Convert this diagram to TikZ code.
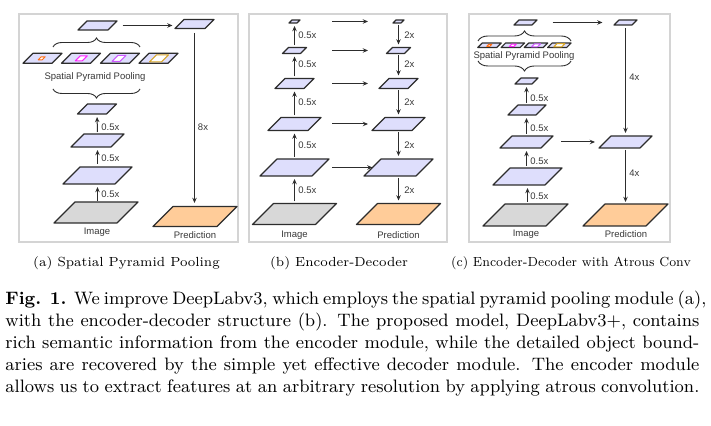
\documentclass[tikz,border=0pt]{standalone}
\usepackage{fontspec}
\newfontfamily\lsans{Liberation Sans}
\usetikzlibrary{arrows.meta,decorations.pathreplacing,calc}
\definecolor{lav}{RGB}{222,222,252}
\definecolor{imgray}{RGB}{216,216,216}
\definecolor{predc}{RGB}{255,204,153}
\definecolor{edgec}{RGB}{45,45,45}
\definecolor{framec}{RGB}{212,212,212}
\definecolor{sppo}{RGB}{255,110,20}
\definecolor{sppm}{RGB}{255,40,255}
\definecolor{sppv}{RGB}{205,90,255}
\definecolor{sppy}{RGB}{215,165,40}
\tikzset{
 layer/.style={draw=edgec, line width=0.6pt, line join=round, fill=lav},
 arr/.style={draw=edgec, line width=0.5pt, -{Stealth[length=2.6pt,width=2.2pt]}},
 lbl/.style={font=\lsans\fontsize{4.75}{5}\selectfont, text=black!78, inner sep=0},
 panel/.style={draw=framec, line width=0.75pt, fill=white},
 brc/.style={decorate, decoration={brace, amplitude=#1}, draw=edgec, line width=0.45pt},
 brc/.default=4.5pt,
 inr/.style={line width=0.5pt, fill=white, draw=#1},
 sub/.style={font=\fontsize{6.6}{8}\selectfont, inner sep=0},
}
% name, cx, cy, w (edge length), h, extra style   (units: px)
\newcommand\lay[6]{%
  \coordinate (#1) at (#2,#3);
  \coordinate (#1-t) at (#2,#3-#5/2);
  \coordinate (#1-b) at (#2,#3+#5/2);
  \coordinate (#1-l) at (#2-#4/2,#3);
  \coordinate (#1-r) at (#2+#4/2,#3);
  \draw[layer,#6] (#2-#4/2-#5/2,#3+#5/2) -- ++(#4,0) -- ++(#5,-#5) -- ++(-#4,0) -- cycle;}
\begin{document}
\begin{tikzpicture}[x=0.5pt,y=-0.5pt]
\useasboundingbox[fill=white] (0,0) rectangle (711,426);
% panels
\draw[panel] (19,14) rectangle (238,242);
\draw[panel] (249,14) rectangle (447,242);
\draw[panel] (469,14) rectangle (670,242);

% ---------------- (a) ----------------
\lay{aT}{97.5}{25.5}{30}{9}{}
\lay{aTR}{194.5}{24}{30}{9}{}
\lay{s1}{42.5}{58.3}{29}{10}{}
\lay{s2}{81}{58.3}{29}{10}{}
\lay{s3}{120}{58.3}{29}{10}{}
\lay{s4}{158.5}{58.3}{29}{10}{}
\lay{s1i}{41.7}{58.3}{4}{3}{inr=sppo}
\lay{s2i}{81.3}{58.3}{7}{5}{inr=sppm}
\lay{s3i}{119}{58.3}{8}{6}{inr=sppv}
\lay{s4i}{159}{58.3}{12}{7}{inr=sppy}
\node[lbl] (sppa) at (95,77) {Spatial Pyramid Pooling};
\draw[brc] (53,47) -- (140,47);
\draw[brc] (140,89) -- (53,89);
\lay{a1}{97}{109}{29}{10}{}
\lay{a2}{97.5}{140.5}{40}{13}{}
\lay{a3}{97.5}{175.5}{52}{17}{}
\lay{aI}{96}{212.5}{63}{21}{fill=imgray}
\lay{aP}{195}{216.5}{64}{20}{fill=predc}
\node[lbl] (aIl) at (97,232) {Image};
\node[lbl] (aPl) at (195,235) {Prediction};
\draw[arr, shorten <=0.5pt, shorten >=1.5pt] (aI-t -| a3-b) -- (a3-b);
\draw[arr, shorten <=1.5pt, shorten >=1.5pt] (a3-t) -- (a2-b);
\draw[arr, shorten <=1pt, shorten >=1.5pt] (a2-t) -- (a1-b);
\node[lbl, anchor=west] (ah1) at (101,194) {0.5x};
\node[lbl, anchor=west] (ah2) at (101,158) {0.5x};
\node[lbl, anchor=west] (ah3) at (101,127) {0.5x};
\draw[arr, shorten <=5pt, shorten >=3.5pt] (aT-r) -- (aT-r -| aTR-l);
\draw[arr, shorten <=2.25pt, shorten >=1.75pt] (aTR-b) -- (aTR-b |- aP-t);
\node[lbl] (a8) at (203,127) {8x};

% ---------------- (b) ----------------
\lay{L5}{294.5}{21.5}{8}{3}{}
\lay{L4}{294.5}{50.5}{18}{6}{}
\lay{L3}{294.5}{83.5}{29}{10}{}
\lay{L2}{294.5}{124}{40}{13}{}
\lay{L1}{294.5}{167.5}{52}{17}{}
\lay{L0}{294.5}{214}{63}{21}{fill=imgray}
\lay{R5}{398.5}{21.5}{8}{3}{}
\lay{R4}{398.5}{50.5}{18}{6}{}
\lay{R3}{398.5}{83.5}{29}{10}{}
\lay{R2}{398.5}{124}{40}{13}{}
\lay{R1}{398.5}{167.5}{52}{17}{}
\lay{R0}{398.5}{214}{63}{21}{fill=predc}
\node[lbl] (bIl) at (294.5,235) {Image};
\node[lbl] (bPl) at (398.5,235) {Prediction};
\foreach \lo/\hi/\y in {L0/L1/190,L1/L2/145,L2/L3/102,L3/L4/64,L4/L5/35}{
  \draw[arr, shorten <=1pt, shorten >=1.5pt] (\lo-t) -- (\hi-b);
  \node[lbl, anchor=west] at (298,\y) {0.5x};}
\foreach \hi/\lo/\y in {R5/R4/35,R4/R3/64,R3/R2/102,R2/R1/145,R1/R0/190}{
  \draw[arr, shorten <=1pt, shorten >=1.5pt] (\hi-b) -- (\lo-t);
  \node[lbl, anchor=west] at (404,\y) {2x};}
\coordinate (hs) at (332,0);
\coordinate (he) at (368,0);
\foreach \a/\b in {L5/R5,L4/R4,L3/R3,L2/R2}{
  \draw[arr] (\a -| hs) -- (\b -| he);}
\draw[arr] (L1 -| hs) -- (R1-l);

% ---------------- (c) ----------------
\lay{cT}{525.5}{22.5}{18}{5}{}
\lay{cTR}{625.5}{22.5}{18}{5}{}
\lay{t1}{489.5}{45.3}{19}{4.5}{}
\lay{t2}{512.8}{45.3}{19}{4.5}{}
\lay{t3}{536}{45.3}{19}{4.5}{}
\lay{t4}{559.3}{45.3}{19}{4.5}{}
\lay{t1i}{489.3}{45.3}{3}{2}{inr=sppo}
\lay{t2i}{512.8}{45.3}{4.5}{2.5}{inr=sppm}
\lay{t3i}{536}{45.3}{6}{3}{inr=sppv}
\lay{t4i}{559.3}{45.3}{8}{3.2}{inr=sppy}
\node[lbl] (sppc) at (524,56) {Spatial Pyramid Pooling};
\draw[brc=5pt] (478,41) -- (571,41);
\draw[brc=5pt] (571,61) -- (478,61);
\lay{c1}{526.5}{81}{17}{6}{}
\lay{c2}{527}{110}{28}{10}{}
\lay{c3}{526.5}{142}{41}{12}{}
\lay{c4}{527.5}{176.5}{52}{17}{}
\lay{cI}{525.5}{215}{63}{22}{fill=imgray}
\lay{cM}{625.5}{142}{41}{12}{}
\lay{cP}{625.5}{215}{63}{22}{fill=predc}
\node[lbl] (cIl) at (526,234) {Image};
\node[lbl] (cPl) at (626,234) {Prediction};
\draw[arr, shorten <=1pt, shorten >=1.5pt] (cI-t -| c4-b) -- (c4-b);
\draw[arr, shorten <=1pt, shorten >=1.5pt] (c4-t -| c3-b) -- (c3-b);
\draw[arr, shorten <=1pt, shorten >=1.5pt] (c3-t) -- (c3-t |- c2-b);
\draw[arr, shorten <=1pt, shorten >=1.5pt] (c2-t -| c1-b) -- (c1-b);
\node[lbl, anchor=west] at (530,196) {0.5x};
\node[lbl, anchor=west] at (530,161) {0.5x};
\node[lbl, anchor=west] at (530,128) {0.5x};
\node[lbl, anchor=west] at (530,98) {0.5x};
\draw[arr, shorten <=9pt, shorten >=7pt] (cT-r) -- (cTR-l);
\draw[arr, shorten <=7pt, shorten >=5pt] (c3-r) -- (cM-l);
\draw[arr, shorten <=1.5pt, shorten >=1.5pt] (cTR-b) -- (cM-t);
\draw[arr, shorten <=1pt, shorten >=1pt] (cM-b) -- (cP-t);
\node[lbl, anchor=west] at (629,77) {4x};
\node[lbl, anchor=west] at (629,173) {4x};

% sub captions
\node[sub] (capa) at (126.5,263) {(a) Spatial Pyramid Pooling};
\node[sub] (capb) at (339,263) {(b) Encoder-Decoder};
\node[sub] (capc) at (571,263) {\scalebox{0.925}[1]{(c) Encoder-Decoder with Atrous Conv}};

% main caption
\node[anchor=base west, inner sep=0] (cap) at (5,305) {\parbox[t]{347pt}{\fontsize{9}{11}\selectfont
\hbox to\hsize{\textbf{Fig. 1.} We improve DeepLabv3, which employs the spatial pyramid pooling module (a),}
\hbox to\hsize{with the encoder-decoder structure (b). The proposed model, DeepLabv3+, contains}
\hbox to\hsize{rich semantic information from the encoder module, while the detailed object bound-}
\hbox to\hsize{aries are recovered by the simple yet effective decoder module. The encoder module}
\hbox to\hsize{allows us to extract features at an arbitrary resolution by applying atrous convolution.}}};
\end{tikzpicture}
\end{document}
